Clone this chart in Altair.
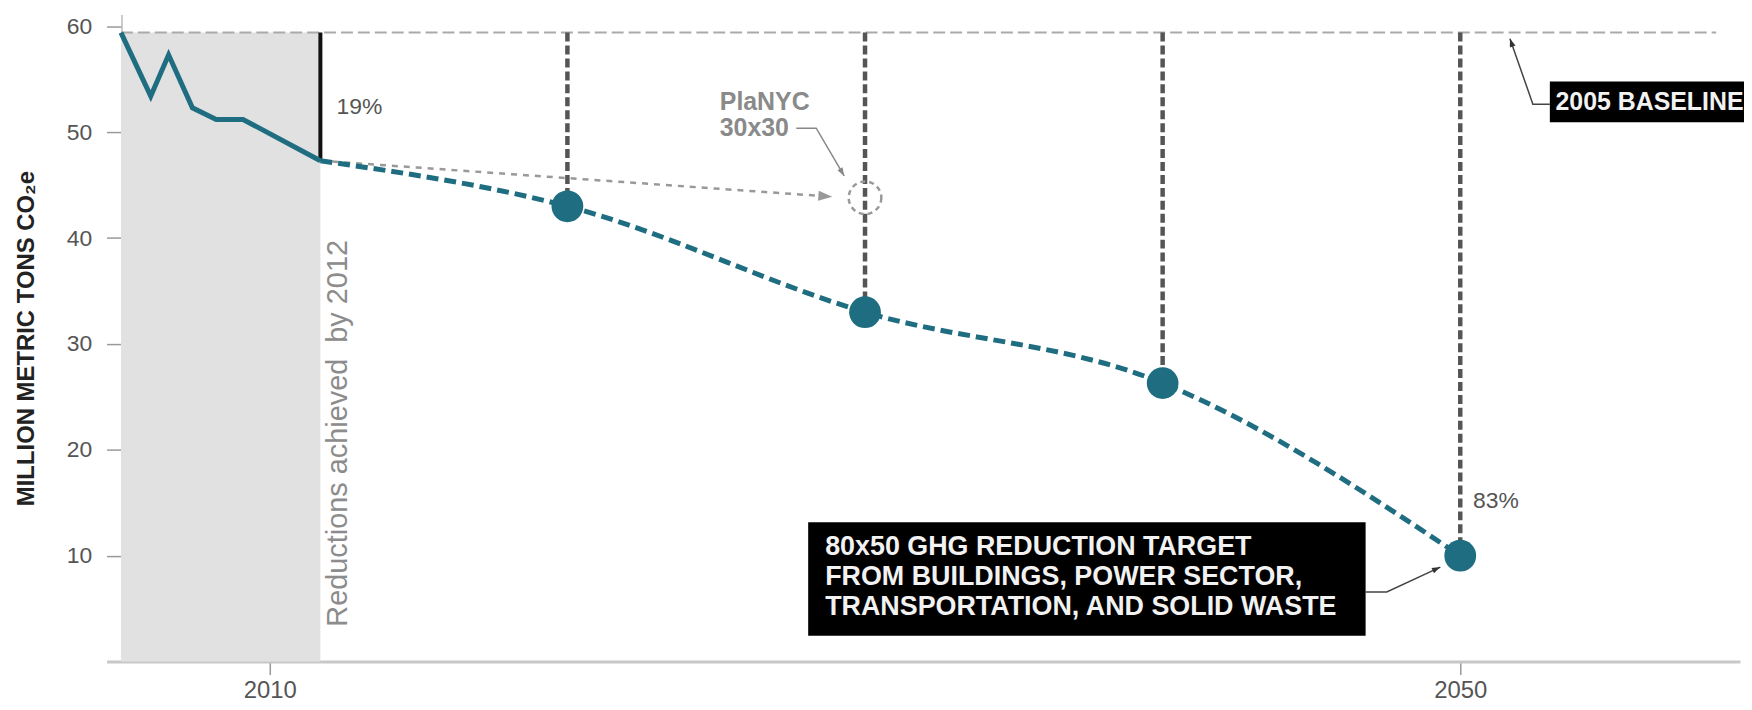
import altair as alt
import pandas as pd

FONT = "Liberation Sans"
TEAL = "#1f6d80"

# ---- data ----
hist_year = [2005, 2006.0, 2006.6, 2007.4, 2008.2, 2009.1, 2011.7]
hist_val = [59.4, 53.4, 57.3, 52.3, 51.2, 51.2, 47.3]

proj_year = [2011.7, 2020, 2030, 2040, 2050]
proj_val = [47.3, 43.0, 33.0, 26.3, 10.0]

target_year = [2020, 2030, 2040, 2050]
target_val = [43.0, 33.0, 26.3, 10.0]

baseline_val = 59.4
baseline_span = [2005, 2058.6]
band_span = [2005, 2011.7]
achieved_year = 2011.7
achieved_val = 47.3

planyc_year = 2030
planyc_val = 43.8
planyc_arrow_year = [2011.7, 2028.9]
planyc_arrow_val = [47.3, 43.9]

x_ticks = [2010, 2050]
y_ticks = [10, 20, 30, 40, 50, 60]

# annotation anchor points (data coordinates)
planyc_leader_year = [2027.69, 2028.36, 2029.30]
planyc_leader_val = [50.37, 50.37, 45.86]
base_leader_year = [2051.67, 2052.44, 2053.01]
base_leader_val = [58.83, 52.63, 52.63]
target_leader_year = [2046.82, 2047.53, 2049.33]
target_leader_val = [6.58, 6.58, 8.93]

base_box = dict(year=2053.01, year2=2061.5, val=54.79, val2=50.93)
target_box = dict(year=2028.09, year2=2046.82, val=13.16, val2=2.44)

labels_grey = pd.DataFrame({
    "year": [2012.24, 2050.43],
    "val": [52.4, 15.13],
    "txt": ["19%", "83%"],
})

planyc_labels = pd.DataFrame({
    "year": [2025.12, 2025.12],
    "val": [52.85, 50.40],
    "txt": ["PlaNYC", "30x30"],
})

ARROW = "M0,0 L-0.5,1.4 L0.5,1.4 Z"

# ---- scales / axes ----
xs = alt.Scale(domain=[2004.515, 2059.4], nice=False, zero=False)
ys = alt.Scale(domain=[0, 61.1], nice=False, zero=True)

xaxis = alt.Axis(values=x_ticks, format="d", title=None, grid=False,
                 labelFontSize=24, labelColor="#555555", labelFont=FONT,
                 tickColor="#999999", tickSize=13, tickWidth=1.5,
                 domainColor="#c8c8c8", domainWidth=3, labelPadding=4)
yaxis = alt.Axis(values=y_ticks, title="MILLION METRIC TONS CO₂e", grid=False,
                 labelFontSize=23, labelColor="#555555", labelFont=FONT,
                 tickColor="#999999", tickSize=15, tickWidth=1.5,
                 domainColor="#bbbbbb", domainWidth=1.5, offset=-15,
                 labelPadding=15, titleFont=FONT, titleFontSize=24,
                 titleFontWeight="bold", titleColor="#222222", titlePadding=28)

X = alt.X("year:Q", scale=xs, axis=xaxis)
Y = alt.Y("val:Q", scale=ys, axis=yaxis)


def df(**kw):
    return pd.DataFrame(kw)


band = alt.Chart(df(year=[band_span[0]], year2=[band_span[1]], val=[0], val2=[baseline_val])).mark_rect(
    color="#e1e1e1").encode(x=X, x2="year2:Q", y=Y, y2="val2:Q")

base_line = alt.Chart(df(year=[baseline_span[0]], year2=[baseline_span[1]], val=[baseline_val])).mark_rule(
    color="#aaaaaa", strokeWidth=2, strokeDash=[12, 5]).encode(x=X, x2="year2:Q", y=Y)

drops = alt.Chart(df(year=target_year, val=[baseline_val] * 4, val2=target_val)).mark_rule(
    color="#555555", strokeWidth=4.5, strokeDash=[9, 4]).encode(x=X, y=Y, y2="val2:Q")

planyc_line = alt.Chart(df(year=planyc_arrow_year, val=planyc_arrow_val)).mark_line(
    color="#999999", strokeWidth=2.5, strokeDash=[6, 6]).encode(x=X, y=Y)
planyc_head = alt.Chart(df(year=[planyc_arrow_year[1]], val=[planyc_arrow_val[1]])).mark_point(
    shape=ARROW, filled=True, size=400, angle=94, color="#999999", opacity=1).encode(x=X, y=Y)
planyc_circle = alt.Chart(df(year=[planyc_year], val=[planyc_val])).mark_point(
    shape="circle", filled=False, size=1075, strokeWidth=2.5, strokeDash=[5, 4],
    color="#999999", opacity=1).encode(x=X, y=Y)

achieved = alt.Chart(df(year=[achieved_year], val=[baseline_val], val2=[achieved_val])).mark_rule(
    color="#111111", strokeWidth=4).encode(x=X, y=Y, y2="val2:Q")

hist = alt.Chart(df(year=hist_year, val=hist_val)).mark_line(
    color=TEAL, strokeWidth=5).encode(x=X, y=Y)
proj = alt.Chart(df(year=proj_year, val=proj_val)).mark_line(
    color=TEAL, strokeWidth=5, strokeDash=[12, 6], interpolate="monotone").encode(x=X, y=Y)
dots = alt.Chart(df(year=target_year, val=target_val)).mark_circle(
    color=TEAL, size=1018, opacity=1).encode(x=X, y=Y)

grey_txt = alt.Chart(labels_grey).mark_text(
    align="left", baseline="middle", fontSize=23, font=FONT, color="#555555").encode(x=X, y=Y, text="txt:N")

reductions = alt.Chart(df(year=[2012.58], val=[3.3], txt=["Reductions achieved\u00a0 by 2012"])).mark_text(
    angle=270, align="left", baseline="alphabetic", fontSize=29, font=FONT, color="#8c8c8c").encode(
    x=X, y=Y, text="txt:N")

planyc_txt = alt.Chart(planyc_labels).mark_text(
    align="left", baseline="middle", fontSize=25, fontWeight="bold", font=FONT, color="#8a8a8a").encode(
    x=X, y=Y, text="txt:N")
planyc_leader = alt.Chart(df(year=planyc_leader_year, val=planyc_leader_val)).mark_line(
    color="#888888", strokeWidth=1.5).encode(x=X, y=Y)
planyc_leader_head = alt.Chart(df(year=[planyc_leader_year[2]], val=[planyc_leader_val[2]])).mark_point(
    shape=ARROW, filled=True, size=144, angle=150, color="#888888", opacity=1).encode(x=X, y=Y)

base_leader = alt.Chart(df(year=base_leader_year, val=base_leader_val)).mark_line(
    color="#444444", strokeWidth=1.5).encode(x=X, y=Y)
base_leader_head = alt.Chart(df(year=[base_leader_year[0]], val=[base_leader_val[0]])).mark_point(
    shape=ARROW, filled=True, size=144, angle=341, color="#333333", opacity=1).encode(x=X, y=Y)
base_rect = alt.Chart(pd.DataFrame([base_box])).mark_rect(color="#000000").encode(
    x=X, x2="year2:Q", y=Y, y2="val2:Q")
base_txt = alt.Chart(df(year=[2053.2], val=[52.86], txt=["2005 BASELINE"])).mark_text(
    align="left", baseline="middle", fontSize=25, fontWeight="bold", font=FONT, color="#f2f2f2").encode(
    x=X, y=Y, text="txt:N")

target_leader = alt.Chart(df(year=target_leader_year, val=target_leader_val)).mark_line(
    color="#444444", strokeWidth=1.5).encode(x=X, y=Y)
target_leader_head = alt.Chart(df(year=[target_leader_year[2]], val=[target_leader_val[2]])).mark_point(
    shape=ARROW, filled=True, size=144, angle=65, color="#333333", opacity=1).encode(x=X, y=Y)
target_rect = alt.Chart(pd.DataFrame([target_box])).mark_rect(color="#000000").encode(
    x=X, x2="year2:Q", y=Y, y2="val2:Q")
target_txt = alt.Chart(df(year=[2028.66], val=[10.81],
                          txt=["80x50 GHG REDUCTION TARGET\nFROM BUILDINGS, POWER SECTOR,\nTRANSPORTATION, AND SOLID WASTE"])).mark_text(
    align="left", baseline="middle", fontSize=27, fontWeight="bold", font=FONT, color="#f2f2f2",
    lineBreak="\n", lineHeight=30).encode(x=X, y=Y, text="txt:N")

chart = alt.layer(
    band, base_line, drops, planyc_line, planyc_head, planyc_circle, achieved,
    hist, proj, dots, grey_txt, reductions,
    planyc_txt, planyc_leader, planyc_leader_head,
    base_leader, base_leader_head, base_rect, base_txt,
    target_leader, target_leader_head, target_rect, target_txt,
).properties(
    width=1641, height=650,
    padding={"left": 99, "top": 5, "right": 4, "bottom": 52},
    autosize="none",
    background="white",
).configure_view(stroke=None)

chart.save("out.html", embed_options={"renderer": "svg", "actions": False})
